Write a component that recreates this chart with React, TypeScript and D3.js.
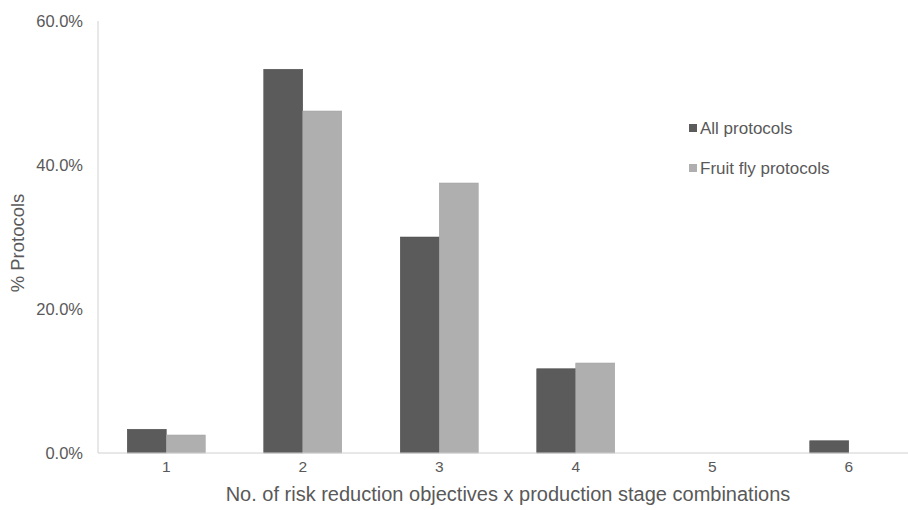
import React from "react";
import * as d3 from "d3";

const categories = ["1", "2", "3", "4", "5", "6"];
const seriesNames = ["All protocols", "Fruit fly protocols"];
const allProtocols = [3.3, 53.3, 30.0, 11.7, 0, 1.7];
const fruitFlyProtocols = [2.5, 47.5, 37.5, 12.5, 0, 0];
const yTicks = [0, 20, 40, 60];
const colors = ["#5b5b5b", "#afafaf"];

export default function App() {
  const W = 908, H = 510;
  const left = 98, right = 917, top = 21, bottom = 453;
  const x = d3.scaleBand<string>().domain(categories).range([left, right]).paddingInner(0).paddingOuter(0);
  const inner = d3.scaleBand<string>().domain(seriesNames).range([0, x.bandwidth()]).paddingInner(0).paddingOuter(0.75);
  const y = d3.scaleLinear().domain([0, 60]).range([bottom, top]);
  const series = [allProtocols, fruitFlyProtocols];
  const font = "'Liberation Sans', Arial, sans-serif";
  const textColor = "#595959";
  return (
    <svg width={W} height={H} style={{ position: "absolute", left: 0, top: 0, background: "#fff" }} fontFamily={font}>
      <line x1={left} x2={left} y1={top} y2={bottom} stroke="#d0d0d0" strokeWidth={1} />
      {yTicks.map((t) => (
        <text key={t} x={83} y={y(t)} textAnchor="end" dominantBaseline="central" fontSize={16.5} fill={textColor}>
          {t.toFixed(1) + "%"}
        </text>
      ))}
      {series.map((vals, si) =>
        categories.map((c, i) =>
          vals[i] > 0 ? (
            <rect
              key={si + "-" + c}
              x={(x(c) as number) + (inner(seriesNames[si]) as number)}
              y={y(vals[i])}
              width={inner.bandwidth()}
              height={bottom - y(vals[i])}
              fill={colors[si]}
              stroke={si === 0 ? "#4a4a4a" : "#a0a0a0"}
              strokeWidth={0.5}
            />
          ) : null
        )
      )}
      <line x1={left} x2={W} y1={bottom} y2={bottom} stroke="#d0d0d0" strokeWidth={1} />
      {categories.map((c) => (
        <text key={c} x={(x(c) as number) + x.bandwidth() / 2} y={472} textAnchor="middle" fontSize={15.5} fill={textColor}>
          {c}
        </text>
      ))}
      <text x={508} y={501} textAnchor="middle" fontSize={20} fill={textColor}>
        No. of risk reduction objectives x production stage combinations
      </text>
      <text transform={`translate(24,243) rotate(-90)`} textAnchor="middle" fontSize={18.5} fill={textColor}>
        % Protocols
      </text>
      {seriesNames.map((s, i) => (
        <g key={s} transform={`translate(0,${128 + i * 40})`}>
          <rect x={689} y={-4} width={8} height={8} fill={colors[i]} />
          <text x={700} y={0} dominantBaseline="central" fontSize={17} fill={textColor}>{s}</text>
        </g>
      ))}
    </svg>
  );
}
